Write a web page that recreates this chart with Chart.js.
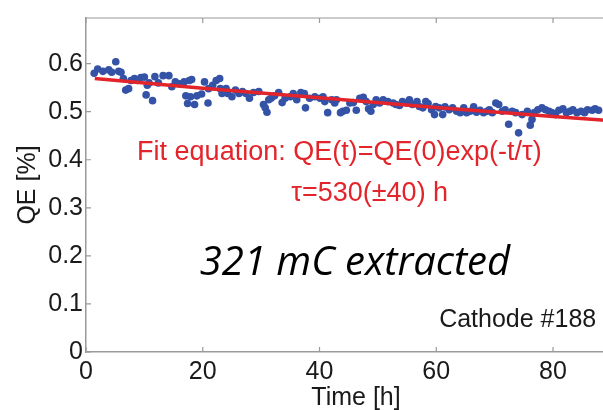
<!DOCTYPE html>
<html>
<head>
<meta charset="utf-8">
<script src="https://cdn.jsdelivr.net/npm/chart.js@4/dist/chart.umd.min.js"></script>
<style>
    html, body { margin: 0; padding: 0; background: #fff; overflow: hidden; }
    #wrap { width: 603px; height: 410px; overflow: hidden; }
</style>
</head>
<body>
<div id="wrap"><canvas id="qeChart" width="630" height="410"></canvas></div>
<script>

// measured QE of cathode #188 vs. time
var timeH = [1.4, 2.0, 2.9, 3.9, 4.4, 5.1, 5.6, 6.0, 6.4, 6.8, 7.3, 7.7, 8.3, 8.8, 9.4, 10.0, 10.3, 10.5, 10.8, 11.4,
    11.8, 12.4, 13.2, 14.2, 14.7, 15.3, 16.0, 16.8, 17.1, 17.4, 17.7, 17.9, 18.1, 18.6, 19.0, 19.8, 20.3, 20.9, 21.0, 21.7,
    22.3, 22.9, 23.0, 23.3, 24.0, 24.3, 25.0, 25.6, 26.2, 26.8, 27.4, 28.0, 28.7, 29.6, 30.4, 30.7, 31.0, 31.3, 31.7, 32.3,
    33.0, 33.6, 34.1, 35.0, 35.5, 36.1, 36.8, 37.4, 37.6, 38.3, 39.2, 40.1, 40.6, 40.9, 41.4, 42.1, 42.6, 42.9, 43.6, 44.0,
    44.6, 45.2, 45.8, 46.3, 46.9, 47.5, 48.0, 48.4, 48.8, 49.2, 49.7, 50.3, 50.9, 51.7, 52.6, 53.1, 53.7, 54.2, 55.0, 55.4,
    55.9, 56.7, 57.1, 57.7, 58.2, 58.6, 59.2, 59.7, 59.9, 60.5, 61.1, 61.5, 62.2, 62.8, 63.5, 64.1, 64.7, 65.2, 65.8, 66.4,
    66.9, 67.5, 68.1, 68.7, 69.1, 69.6, 70.2, 70.7, 71.3, 71.8, 72.4, 73.0, 73.6, 74.1, 74.7, 75.6, 76.1, 76.4, 76.8, 77.4,
    78.1, 78.7, 79.3, 79.8, 80.4, 81.0, 81.7, 82.3, 82.9, 83.4, 84.1, 84.8, 85.4, 85.9, 86.7, 87.2, 87.8];

var qePct = [0.580, 0.589, 0.584, 0.587, 0.582, 0.604, 0.584, 0.582, 0.569, 0.545, 0.548, 0.565, 0.569, 0.565, 0.571, 0.572, 0.535, 0.555, 0.560, 0.523,
    0.573, 0.560, 0.575, 0.575, 0.552, 0.562, 0.558, 0.562, 0.533, 0.517, 0.565, 0.531, 0.567, 0.515, 0.533, 0.537, 0.562, 0.518, 0.548, 0.555,
    0.565, 0.569, 0.548, 0.538, 0.548, 0.538, 0.531, 0.545, 0.538, 0.542, 0.538, 0.528, 0.540, 0.542, 0.515, 0.508, 0.499, 0.525, 0.528, 0.533,
    0.540, 0.519, 0.528, 0.531, 0.538, 0.525, 0.540, 0.538, 0.508, 0.528, 0.531, 0.528, 0.531, 0.521, 0.498, 0.525, 0.518, 0.525, 0.498, 0.501,
    0.503, 0.518, 0.519, 0.503, 0.528, 0.530, 0.521, 0.506, 0.501, 0.515, 0.525, 0.518, 0.525, 0.521, 0.518, 0.515, 0.513, 0.521, 0.518, 0.525,
    0.515, 0.521, 0.511, 0.508, 0.521, 0.517, 0.504, 0.494, 0.511, 0.508, 0.494, 0.510, 0.504, 0.508, 0.501, 0.498, 0.508, 0.498, 0.501, 0.510,
    0.499, 0.503, 0.498, 0.501, 0.504, 0.498, 0.518, 0.515, 0.501, 0.504, 0.474, 0.501, 0.498, 0.456, 0.494, 0.501, 0.472, 0.484, 0.498, 0.504,
    0.508, 0.504, 0.501, 0.498, 0.494, 0.503, 0.506, 0.498, 0.501, 0.504, 0.498, 0.501, 0.498, 0.504, 0.503, 0.506, 0.503];

// exponential fit QE(0)=0.57, tau=530 h
var fitTime = [1.5, 20, 40, 60, 80, 92.5];
var fitQE = [0.569, 0.549, 0.529, 0.509, 0.490, 0.479];

var xTicks = [0, 20, 40, 60, 80];
var yTicks = [0, 0.1, 0.2, 0.3, 0.4, 0.5, 0.6];

var ARIAL = '"Liberation Sans", Arial, sans-serif';
var AXIS_GREY = '#9a9a9a';
var RED = '#e3242b';

// text placed in data coordinates
var notes = [
    {text: 'Fit equation: QE(t)=QE(0)exp(-t/\u03c4)', t: 43.4, qe: 0.400, align: 'center', font: '27px ' + ARIAL, color: RED},
    {text: '\u03c4=530(\u00b140) h', t: 48.6, qe: 0.314, align: 'center', font: '27px ' + ARIAL, color: RED},
    {text: '321 mC extracted', t: 19.5, qe: 0.160, align: 'left', font: 'italic 40px "Open Sans", sans-serif', color: '#000'},
    {text: 'Cathode #188', t: 87.4, qe: 0.053, align: 'right', font: '25px ' + ARIAL, color: '#1a1a1a'}
];

var points = [];
for (var i = 0; i < timeH.length; i++) {
    points.push({x: timeH[i], y: qePct[i]});
}
var fitLine = [];
for (var j = 0; j < fitTime.length; j++) {
    fitLine.push({x: fitTime[j], y: fitQE[j]});
}

// box on top edge + inward tick marks like the matlab axes
var boxTicks = {
    id: 'boxTicks',
    afterDraw: function (chart) {
        var ctx = chart.ctx, area = chart.chartArea;
        var xs = chart.scales.x, ys = chart.scales.y;
        ctx.save();
        ctx.strokeStyle = AXIS_GREY;
        ctx.lineWidth = 1.2;
        ctx.beginPath();
        ctx.moveTo(area.left, area.top);
        ctx.lineTo(area.right, area.top);
        ctx.lineTo(area.right, area.bottom);
        xTicks.forEach(function (v) {
            var px = xs.getPixelForValue(v);
            ctx.moveTo(px, area.bottom);
            ctx.lineTo(px, area.bottom - 5);
            ctx.moveTo(px, area.top);
            ctx.lineTo(px, area.top + 5);
        });
        yTicks.forEach(function (v) {
            var py = ys.getPixelForValue(v);
            ctx.moveTo(area.left, py);
            ctx.lineTo(area.left + 5, py);
        });
        ctx.stroke();
        ctx.restore();
    }
};

var labelsPlugin = {
    id: 'notes',
    afterDraw: function (chart) {
        var ctx = chart.ctx;
        var xs = chart.scales.x, ys = chart.scales.y;
        ctx.save();
        ctx.textBaseline = 'alphabetic';
        notes.forEach(function (n) {
            ctx.font = n.font;
            ctx.fillStyle = n.color;
            ctx.textAlign = n.align;
            ctx.fillText(n.text, xs.getPixelForValue(n.t), ys.getPixelForValue(n.qe));
        });
        ctx.restore();
    }
};

new Chart(document.getElementById('qeChart'), {
    type: 'scatter',
    data: {
        datasets: [
            {
                label: 'fit',
                type: 'line',
                data: fitLine,
                borderColor: RED,
                borderWidth: 3.5,
                pointRadius: 0,
                fill: false,
                order: 0
            },
            {
                label: 'QE',
                data: points,
                backgroundColor: '#3452a6',
                borderWidth: 0,
                pointRadius: 3.8,
                order: 1
            }
        ]
    },
    options: {
        responsive: false,
        animation: false,
        devicePixelRatio: 1,
        layout: {padding: {left: 0, right: 3, top: 9, bottom: 0}},
        plugins: {legend: {display: false}, tooltip: {enabled: false}},
        scales: {
            x: {
                type: 'linear',
                min: 0,
                max: 92.5,
                afterBuildTicks: function (scale) {
                    scale.ticks = xTicks.map(function (v) { return {value: v}; });
                },
                afterFit: function (scale) { scale.height = 58; },
                grid: {display: false, drawTicks: false},
                border: {display: true, color: AXIS_GREY, width: 1.5},
                ticks: {color: '#1a1a1a', font: {family: ARIAL, size: 25}, padding: 5, maxRotation: 0},
                title: {display: true, text: 'Time [h]', color: '#1a1a1a', font: {family: ARIAL, size: 25}, padding: {top: 0, bottom: -3}}
            },
            y: {
                type: 'linear',
                min: 0,
                max: 0.695,
                afterBuildTicks: function (scale) {
                    scale.ticks = yTicks.map(function (v) { return {value: v}; });
                },
                afterFit: function (scale) { scale.width = 86; },
                grid: {display: false, drawTicks: false},
                border: {display: true, color: AXIS_GREY, width: 1.5},
                ticks: {
                    color: '#1a1a1a',
                    font: {family: ARIAL, size: 25},
                    padding: 3,
                    callback: function (v) { return String(Math.round(v * 10) / 10); }
                },
                title: {display: true, text: 'QE [%]', color: '#1a1a1a', font: {family: ARIAL, size: 25}, padding: {top: 13, bottom: 0}}
            }
        }
    },
    plugins: [boxTicks, labelsPlugin]
});
</script>
</body>
</html>
